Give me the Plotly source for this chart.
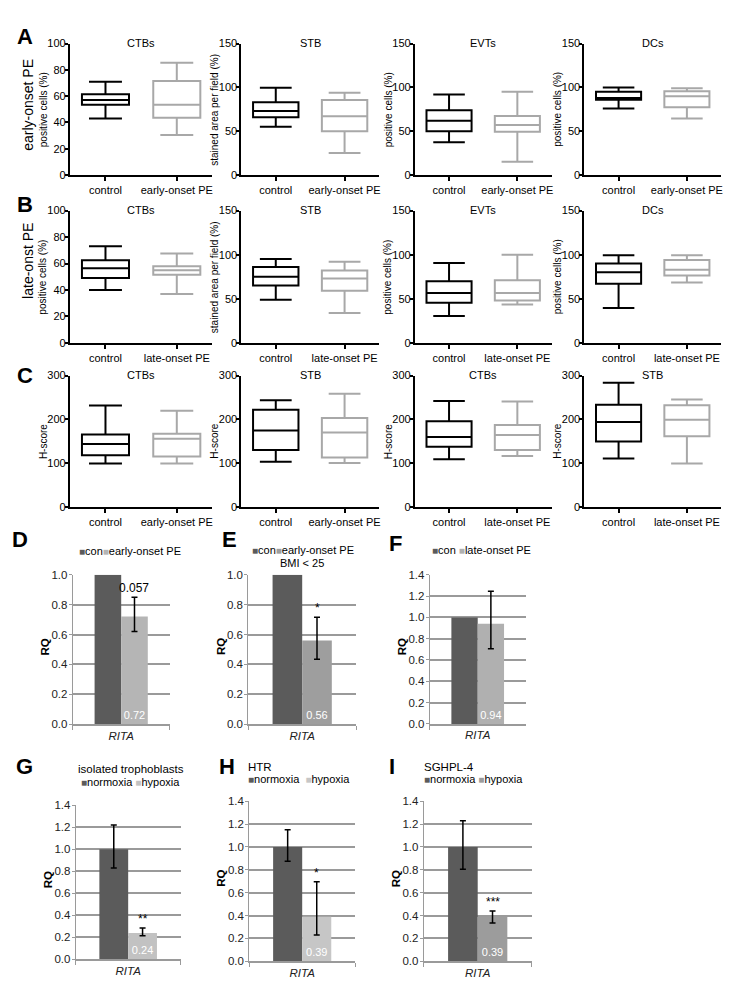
import plotly.graph_objects as go

W, H = 732, 983
FONT = "Liberation Sans, Arial, Helvetica, sans-serif"

# ---------------- data: box plots [lower whisker, q1, median, q3, upper whisker] ----------------
GROUP_CONTROL = "control"
GROUP_EARLY = "early-onset PE"
GROUP_LATE = "late-onset PE"

A_CTB_control = [43, 53.5, 57, 61.5, 71]
A_CTB_pe = [30.5, 43.5, 53.5, 71.5, 85.5]
A_STB_control = [55, 66, 73, 83, 99.5]
A_STB_pe = [25, 50, 67, 85.5, 94]
A_EVT_control = [37.5, 50, 62, 74, 92]
A_EVT_pe = [15, 49.5, 57, 67.5, 95]
A_DC_control = [76, 86, 88, 95, 100]
A_DC_pe = [64.5, 77.5, 90, 95.5, 99]

B_CTB_control = [40, 49, 56.5, 62.5, 73]
B_CTB_pe = [37, 51.5, 55, 58, 67.5]
B_STB_control = [49, 65, 75, 86, 95]
B_STB_pe = [34, 59, 73, 82, 92]
B_EVT_control = [30.5, 45.5, 56.5, 70, 90.5]
B_EVT_pe = [43.5, 48, 56.5, 71, 100]
B_DC_control = [39.5, 67, 80, 90, 99.5]
B_DC_pe = [68.5, 76.5, 83, 94, 99.5]

C_CTB_early_control = [99, 118, 143.5, 165.5, 231.5]
C_CTB_early_pe = [99, 115, 155.5, 167, 219.5]
C_STB_early_control = [103, 130, 174.5, 222, 243.5]
C_STB_early_pe = [100, 113, 170, 203, 258.5]
C_CTB_late_control = [109, 137.5, 159.5, 195.5, 242]
C_CTB_late_pe = [116, 130, 164, 187, 240.5]
C_STB_late_control = [110.5, 149.5, 194, 233, 283.5]
C_STB_late_pe = [99, 161.5, 199, 232, 245]

# ---------------- data: qPCR bar charts ----------------
BAR_CATEGORY = ["RITA"]
# values [con, pe]; error bounds [con, pe] (None = no error bar)
D_values = [1.00, 0.72]
D_upper = [None, 0.85]
D_lower = [None, 0.62]
E_values = [1.00, 0.56]
E_upper = [None, 0.715]
E_lower = [None, 0.435]
F_values = [1.00, 0.94]
F_upper = [None, 1.245]
F_lower = [None, 0.705]
G_values = [1.00, 0.24]
G_upper = [1.22, 0.285]
G_lower = [0.83, 0.215]
H_values = [1.00, 0.39]
H_upper = [1.15, 0.695]
H_lower = [0.875, 0.23]
I_values = [1.00, 0.39]
I_upper = [1.23, 0.44]
I_lower = [0.805, 0.335]

D_sig, E_sig, F_sig, G_sig, H_sig, I_sig = "0.057", "*", "", "**", "*", "***"


def fx(px):
    return px / W


def fy(py):
    return 1 - py / H


fig = go.Figure()
layout = dict(
    width=W, height=H, margin=dict(l=0, r=0, t=0, b=0),
    paper_bgcolor="white", plot_bgcolor="white",
    font=dict(family=FONT, size=11, color="black"),
    showlegend=False, barmode="group", bargap=0.45, bargroupgap=0,
    uniformtext=dict(minsize=11, mode="show"),
)
annotations = []

def ann(text, x, y, size=11, xanchor="center", yanchor="middle", angle=0, color="black", **kw):
    annotations.append(dict(text=text, x=fx(x), y=fy(y), xref="paper", yref="paper",
                            showarrow=False, xanchor=xanchor, yanchor=yanchor, textangle=angle,
                            font=dict(size=size, color=color, family=FONT), **kw))

# ---------------- box panels ----------------
cols = [(62, 205), (234, 372), (408, 545), (578, 715)]
rows = [(30, 163), (199, 333), (366, 499)]
ytitle_off = 27

box_panels = [
    ("CTBs", "positive cells (%)", 100, 20, GROUP_EARLY, A_CTB_control, A_CTB_pe, 0, 0),
    ("STB", "stained area per field (%)", 150, 50, GROUP_EARLY, A_STB_control, A_STB_pe, 0, 1),
    ("EVTs", "positive cells (%)", 150, 50, GROUP_EARLY, A_EVT_control, A_EVT_pe, 0, 2),
    ("DCs", "positive cells (%)", 150, 50, GROUP_EARLY, A_DC_control, A_DC_pe, 0, 3),
    ("CTBs", "positive cells (%)", 100, 20, GROUP_LATE, B_CTB_control, B_CTB_pe, 1, 0),
    ("STB", "stained area per field (%)", 150, 50, GROUP_LATE, B_STB_control, B_STB_pe, 1, 1),
    ("EVTs", "positive cells (%)", 150, 50, GROUP_LATE, B_EVT_control, B_EVT_pe, 1, 2),
    ("DCs", "positive cells (%)", 150, 50, GROUP_LATE, B_DC_control, B_DC_pe, 1, 3),
    ("CTBs", "H-score", 300, 100, GROUP_EARLY, C_CTB_early_control, C_CTB_early_pe, 2, 0),
    ("STB", "H-score", 300, 100, GROUP_EARLY, C_STB_early_control, C_STB_early_pe, 2, 1),
    ("CTBs", "H-score", 300, 100, GROUP_LATE, C_CTB_late_control, C_CTB_late_pe, 2, 2),
    ("STB", "H-score", 300, 100, GROUP_LATE, C_STB_late_control, C_STB_late_pe, 2, 3),
]

n = 0
for title, ytitle, ymax, dtick, pe_group, s_con, s_pe, r, c in box_panels:
    n += 1
    x0, x1 = cols[c]
    y0, y1 = rows[r]
    xa, ya = f"x{n}", f"y{n}"
    for grp, st, col in ((GROUP_CONTROL, s_con, "black"), (pe_group, s_pe, "#a8a8a8")):
        fig.add_trace(go.Box(
            x=[grp], lowerfence=[st[0]], q1=[st[1]], median=[st[2]], q3=[st[3]], upperfence=[st[4]],
            line=dict(color=col, width=2), fillcolor="rgba(255,255,255,0)", width=0.66,
            whiskerwidth=0.7, boxpoints=False, xaxis=xa, yaxis=ya, hoverinfo="skip"))
    layout[f"xaxis{n}"] = dict(
        domain=[fx(x0), fx(x1)], anchor=ya, type="category",
        categoryorder="array", categoryarray=[GROUP_CONTROL, pe_group], range=[-0.5, 1.5],
        showline=True, linecolor="black", linewidth=2, ticks="outside", ticklen=4,
        tickwidth=1.5, tickcolor="black", showgrid=False, zeroline=False,
        tickfont=dict(size=11, color="black"), fixedrange=True)
    layout[f"yaxis{n}"] = dict(
        domain=[fy(y1), fy(y0)], anchor=xa, range=[0, ymax], dtick=dtick, tick0=0,
        showline=True, linecolor="black", linewidth=2, ticks="outside", ticklen=3,
        tickwidth=1.5, tickcolor="black", showgrid=False, zeroline=False,
        ticklabelstandoff=-3,
        tickfont=dict(size=11, color="black"), fixedrange=True)
    ann(title, (x0 + x1) / 2, y0 - 1, size=11)
    ann(ytitle, x0 - ytitle_off, (y0 + y1) / 2, size=10, angle=-90)

ann("early-onset PE", 20, 92, size=14, angle=-90)
ann("late-onst PE", 20, 250, size=14, angle=-90)

# ---------------- bar panels ----------------
CON_COLOR = "#5b5b5b"
GRID = "#9a9a9a"
PE_OFFSET = (1 - layout["bargap"]) / 4

bar_panels = [
    (D_values, D_upper, D_lower, D_sig, 1.0, "#b5b5b5", (65, 162, 567.7, 719)),
    (E_values, E_upper, E_lower, E_sig, 1.0, "#9e9e9e", (241, 349, 567.7, 719)),
    (F_values, F_upper, F_lower, F_sig, 1.4, "#b0b0b0", (423, 519, 567.7, 718.7)),
    (G_values, G_upper, G_lower, G_sig, 1.4, "#c2c2c2", (68, 173, 801, 957)),
    (H_values, H_upper, H_lower, H_sig, 1.4, "#c6c6c6", (242, 348, 797, 959)),
    (I_values, I_upper, I_lower, I_sig, 1.4, "#9c9c9c", (417, 525, 797, 959)),
]

for vals, ups, lows, sig, ymax, pe_color, (x0, x1, y0, y1) in bar_panels:
    n += 1
    xa, ya = f"x{n}", f"y{n}"
    for i, (col, grp) in enumerate(((CON_COLOR, "con"), (pe_color, "pe"))):
        err = dict(visible=False)
        if ups[i] is not None:
            err = dict(type="data", symmetric=False, array=[ups[i] - vals[i]],
                       arrayminus=[vals[i] - lows[i]], color="black", thickness=1.5, width=3,
                       visible=True)
        kw = {}
        if grp == "pe":
            kw = dict(text=[f"{vals[i]:.2f}"], textposition="inside", insidetextanchor="start",
                      textangle=0, constraintext="none",
                      textfont=dict(color="white", size=11, family=FONT))
        fig.add_trace(go.Bar(x=BAR_CATEGORY, y=[vals[i]], marker=dict(color=col, line=dict(width=0)),
                             error_y=err, offsetgroup=grp, xaxis=xa, yaxis=ya,
                             hoverinfo="skip", **kw))
    layout[f"xaxis{n}"] = dict(
        domain=[fx(x0), fx(x1)], anchor=ya, type="category", range=[-0.5, 0.5],
        tickvals=BAR_CATEGORY, ticktext=[f"<i>{t}</i>" for t in BAR_CATEGORY],
        showline=True, linecolor=GRID, linewidth=1.5, ticks="outside", tickson="boundaries",
        ticklen=4, tickcolor=GRID, tickwidth=1, showgrid=False, zeroline=False,
        tickfont=dict(size=11.5, color="#222"), fixedrange=True)
    layout[f"yaxis{n}"] = dict(
        domain=[fy(y1), fy(y0)], anchor=xa, range=[0, ymax], dtick=0.2, tick0=0,
        tickformat=".1f", showline=True, linecolor=GRID, linewidth=1.2, ticks="outside",
        ticklen=3, tickcolor=GRID, tickwidth=1, showgrid=True, gridcolor=GRID, gridwidth=1.5,
        ticklabelstandoff=-1,
        zeroline=False, tickfont=dict(size=11.5, color="#222"), fixedrange=True)
    ann("<b>RQ</b>", x0 - 28, (y0 + y1) / 2 - 3, size=11.5, angle=-90)
    if sig:
        top = ups[1] if ups[1] is not None else vals[1]
        annotations.append(dict(text=sig, x=PE_OFFSET, y=top, xref=xa, yref=ya, showarrow=False,
                                xanchor="center", yanchor="bottom", yshift=0,
                                font=dict(size=12, color="black", family=FONT)))


def sq(color):
    return f"<span style='color:{color};font-size:10px'>■</span>"

ann(f"{sq(CON_COLOR)}con{sq('#b5b5b5')}early-onset PE", 122, 544, size=11)
ann(f"{sq(CON_COLOR)}con{sq('#9e9e9e')}early-onset PE", 296, 543, size=11)
ann("BMI &lt; 25", 295, 556, size=11)
ann(f"{sq(CON_COLOR)}con {sq('#b0b0b0')}late-onset PE", 475, 543, size=11)
ann("isolated trophoblasts", 123, 764, size=11.5)
ann(f"{sq(CON_COLOR)}normoxia {sq('#c2c2c2')}hypoxia", 123, 777, size=11)
ann("HTR", 239, 762, size=11.5, xanchor="left")
ann(f"{sq(CON_COLOR)}normoxia  {sq('#c6c6c6')}hypoxia", 239, 774, size=11, xanchor="left")
ann("SGHPL-4", 415, 762, size=11.5, xanchor="left")
ann(f"{sq(CON_COLOR)}normoxia {sq('#9c9c9c')}hypoxia", 415, 774, size=11, xanchor="left")

# panel letters
for letter, x, y in [("A", 17, 23), ("B", 17, 193), ("C", 17, 366), ("D", 12, 532),
                     ("E", 222, 532), ("F", 389, 536), ("G", 17, 762), ("H", 220, 762),
                     ("I", 385, 762)]:
    ann(f"<b>{letter}</b>", x, y, size=22)

layout["annotations"] = annotations
fig.update_layout(**layout)
fig.write_html("out.html")
